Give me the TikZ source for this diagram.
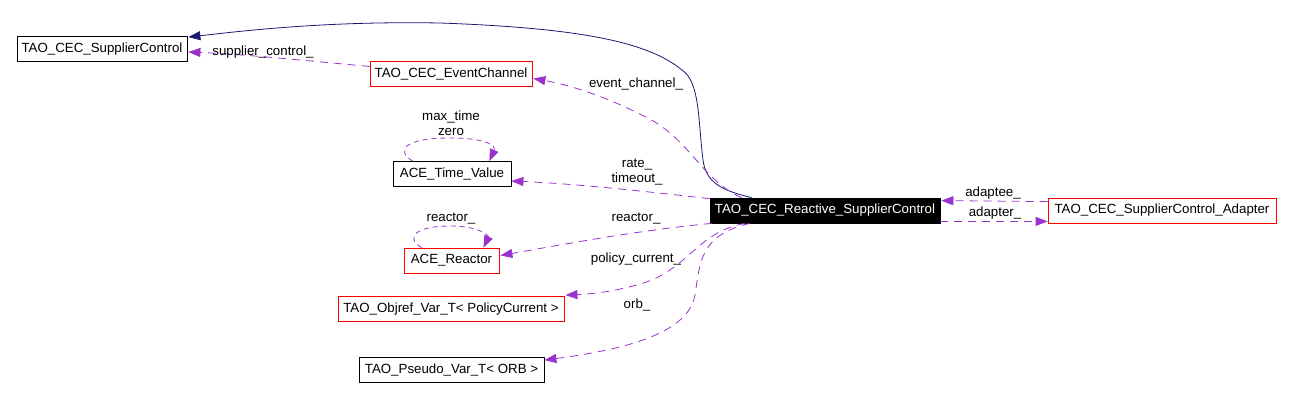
\documentclass[tikz,border=0pt]{standalone}
\usepackage{fontspec}
\setmainfont{Liberation Sans}
\usetikzlibrary{arrows.meta,calc}
\definecolor{edgepurple}{HTML}{9A32CD}
\definecolor{navyedge}{HTML}{191970}
\definecolor{boxred}{HTML}{FF0000}
\tikzset{
  cls/.style={draw=black,line width=0.8pt,rectangle,inner sep=0pt,minimum height=25pt,font=\fontsize{13.3}{16}\selectfont},
  redcls/.style={cls,draw=boxred},
  curcls/.style={cls,fill=black,text=white},
  usage/.style={draw=edgepurple,line width=0.8pt,dash pattern=on 8pt off 6pt,-{Triangle[length=12pt,width=9pt,fill=edgepurple]}},
  selfuse/.style={draw=edgepurple,line width=0.8pt,dash pattern=on 5pt off 4pt,-{Triangle[length=12pt,width=9pt,fill=edgepurple]}},
  inherit/.style={draw=navyedge,line width=0.8pt,-{Triangle[length=12pt,width=9pt,fill=navyedge]}},
  lbl/.style={inner sep=0pt,font=\fontsize{13.3}{16}\selectfont}
}
\begin{document}
\begin{tikzpicture}[x=1pt,y=-1pt]
\useasboundingbox (0,0) rectangle (1294,400);
% nodes
\node[cls,minimum width=170pt] (sc) at (102,49) {TAO\_CEC\_SupplierControl};
\node[redcls,minimum width=162pt] (ec) at (451,73.5) {TAO\_CEC\_EventChannel};
\node[cls,minimum width=118pt] (tv) at (452,174) {ACE\_Time\_Value};
\node[curcls,minimum width=230pt] (rsc) at (825,210.5) {TAO\_CEC\_Reactive\_SupplierControl};
\node[redcls,minimum width=228pt] (ad) at (1162,210.5) {TAO\_CEC\_SupplierControl\_Adapter};
\node[redcls,minimum width=95pt] (re) at (451.5,260.5) {ACE\_Reactor};
\node[redcls,minimum width=226pt] (ob) at (451,309) {TAO\_Objref\_Var\_T< PolicyCurrent >};
\node[cls,minimum width=185pt] (ps) at (451.5,370) {TAO\_Pseudo\_Var\_T< ORB >};
% inheritance
\draw[inherit] ($(rsc.north west)+(42,0)$) .. controls (720,190) and (706,182) .. (703,160)
  .. controls (698,120) and (700,82) .. (682,70)
  .. controls (648,42) and (580,28) .. (440,23)
  .. controls (330,21) and (250,30) .. ($(sc.north east)+(1,1)$);
% usage edges
\draw[usage] ($(ec.west)+(0,-7)$) .. controls (300,60) and (240,54) .. ($(sc.east)+(1,3)$);
\draw[usage] ($(rsc.north west)+(32,0)$) .. controls (705,182) and (692,145) .. (655,122)
  .. controls (615,100) and (575,86) .. ($(ec.east)+(1,5)$);
\draw[usage] ($(rsc.north west)+(0,1)$) .. controls (650,192) and (580,184) .. ($(tv.east)+(0,7)$);
\draw[selfuse] ($(tv.north west)+(20,0)$) .. controls (395,150) and (405,138) .. (450,138)
  .. controls (488,138) and (496,146) .. ($(tv.north east)+(-22,0)$);
\draw[usage] ($(rsc.south west)+(2,0)$) .. controls (640,230) and (560,245) .. ($(re.east)+(1,-5)$);
\draw[selfuse] ($(re.north west)+(18,0)$) .. controls (405,238) and (415,226) .. (450,226)
  .. controls (480,226) and (489,236) .. ($(re.north east)+(-16,0)$);
\draw[usage] ($(rsc.south west)+(35,0)$) .. controls (700,232) and (692,262) .. (652,280)
  .. controls (622,291) and (592,294) .. ($(ob.north east)+(1,-1)$);
\draw[usage] ($(rsc.south west)+(40,0)$) .. controls (700,235) and (700,262) .. (695,295)
  .. controls (688,335) and (620,350) .. ($(ps.north east)+(0,3)$);
\draw[usage] ($(ad.north west)+(0,4)$) -- ($(rsc.north east)+(1,3)$);
\draw[usage] ($(rsc.south east)+(0,-2)$) -- ($(ad.south west)+(0,-2)$);
% labels
\node[lbl] (l1) at (263,52) {supplier\_control\_};
\node[lbl] (l2) at (636,84) {event\_channel\_};
\node[lbl] (l3) at (637,165) {rate\_};
\node[lbl] (l4) at (637,179) {timeout\_};
\node[lbl] (l5) at (451,117) {max\_time};
\node[lbl] (l6) at (451,132) {zero};
\node[lbl] (l7) at (636,219) {reactor\_};
\node[lbl] (l8) at (451,219) {reactor\_};
\node[lbl] (l9) at (636,259) {policy\_current\_};
\node[lbl] (l10) at (637,305) {orb\_};
\node[lbl] (l11) at (993,193) {adaptee\_};
\node[lbl] (l12) at (995,213) {adapter\_};
\end{tikzpicture}
\end{document}
